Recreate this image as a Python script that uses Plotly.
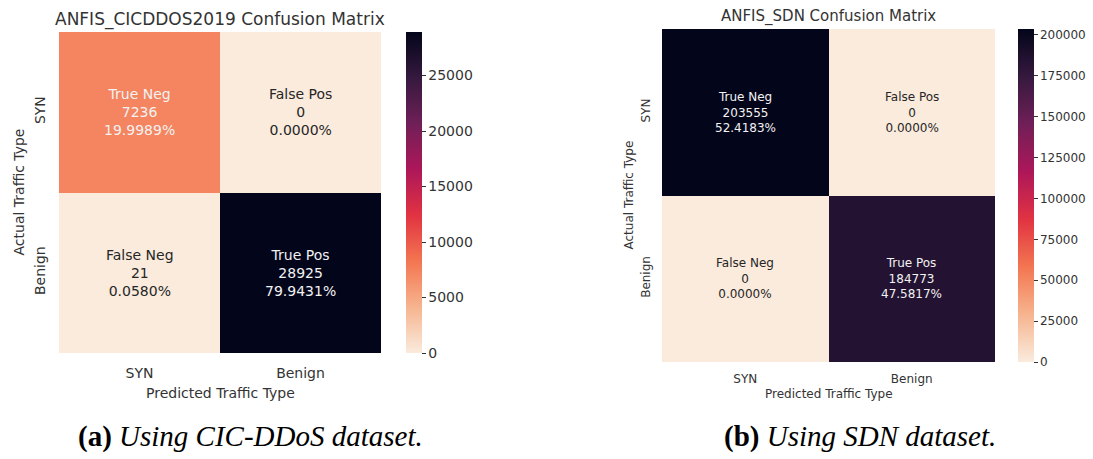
import plotly.graph_objects as go

# ---------------- data ----------------
categories = ["SYN", "Benign"]
cell_names = [["True Neg", "False Pos"], ["False Neg", "True Pos"]]

cic_counts = [[7236, 0], [21, 28925]]
sdn_counts = [[203555, 0], [0, 184773]]

cic_title = "ANFIS_CICDDOS2019 Confusion Matrix"
sdn_title = "ANFIS_SDN Confusion Matrix"
x_title = "Predicted Traffic Type"
y_title = "Actual Traffic Type"
captions = ["<b>(a)</b> <i>Using CIC-DDoS dataset.</i>",
            "<b>(b)</b> <i>Using SDN dataset.</i>"]

cic_dtick = 5000
sdn_dtick = 25000

# seaborn "rocket_r" colormap
rocket_r = [
    [0 / 7, "#FAEBDD"],
    [1 / 7, "#F6B48F"],
    [2 / 7, "#F37651"],
    [3 / 7, "#E13342"],
    [4 / 7, "#AD1759"],
    [5 / 7, "#701F57"],
    [6 / 7, "#35193E"],
    [7 / 7, "#03051A"],
]

W, H = 1093, 459
TXT = "#333333"
FONT = "DejaVu Sans"


def px_x(v):
    return v / W


def px_y(v):
    return 1 - v / H


fig = go.Figure()
annotations = []

panels = [
    dict(counts=cic_counts, title=cic_title, dtick=cic_dtick, xa="x", ya="y",
         box=(59, 381, 32, 353), cb=(406, 16), fs=14, tfs=17, cfs=14,
         title_y=19, xt_y=393, yt_x=18, ticklen=7, cap_x=250),
    dict(counts=sdn_counts, title=sdn_title, dtick=sdn_dtick, xa="x2", ya="y2",
         box=(662, 995, 29, 362), cb=(1018, 16), fs=12, tfs=15, cfs=12,
         title_y=16, xt_y=394, yt_x=628, ticklen=6, cap_x=860),
]

for i, p in enumerate(panels):
    z = p["counts"]
    zmax = max(max(r) for r in z)
    total = sum(sum(r) for r in z)
    x0, x1, y0, y1 = p["box"]
    cbx, cbt = p["cb"]
    fig.add_trace(go.Heatmap(
        z=z, x=categories, y=categories,
        xaxis=p["xa"], yaxis=p["ya"],
        colorscale=rocket_r, zmin=0, zmax=zmax,
        hoverinfo="skip",
        colorbar=dict(
            x=px_x(cbx), xanchor="left", xpad=0, ypad=0,
            y=(px_y(y0) + px_y(y1)) / 2, yanchor="middle",
            len=(y1 - y0) / H, lenmode="fraction",
            thickness=cbt, thicknessmode="pixels",
            outlinewidth=0,
            ticks="outside", ticklen=4, tickwidth=1, tickcolor=TXT,
            tick0=0, dtick=p["dtick"], tickformat="d",
            tickfont=dict(family=FONT, size=p["cfs"], color=TXT),
        ),
    ))
    # cell texts
    for r in range(2):
        for c in range(2):
            v = z[r][c]
            pct = v / total * 100
            frac = v / zmax if zmax else 0
            col = "#F2F2F2" if frac > 0.2 else "#262626"
            annotations.append(dict(
                x=categories[c], y=categories[r], xref=p["xa"], yref=p["ya"],
                text=f"{cell_names[r][c]}<br>{v}<br>{pct:.4f}%",
                showarrow=False, align="center",
                font=dict(family=FONT, size=p["fs"], color=col),
            ))
    cx = (px_x(x0) + px_x(x1)) / 2
    # title
    annotations.append(dict(
        x=cx, y=px_y(p["title_y"]), xref="paper", yref="paper",
        text=p["title"], showarrow=False, xanchor="center", yanchor="middle",
        font=dict(family=FONT, size=p["tfs"], color=TXT)))
    # axis titles
    annotations.append(dict(
        x=cx, y=px_y(p["xt_y"]), xref="paper", yref="paper",
        text=x_title, showarrow=False, xanchor="center", yanchor="middle",
        font=dict(family=FONT, size=p["fs"], color=TXT)))
    annotations.append(dict(
        x=px_x(p["yt_x"]), y=(px_y(y0) + px_y(y1)) / 2, xref="paper", yref="paper",
        text=y_title, showarrow=False, xanchor="center", yanchor="middle",
        textangle=-90,
        font=dict(family=FONT, size=p["fs"], color=TXT)))
    # caption
    annotations.append(dict(
        x=px_x(p["cap_x"]), y=px_y(436), xref="paper", yref="paper",
        text=captions[i], showarrow=False, xanchor="center", yanchor="middle",
        font=dict(family="Liberation Serif", size=29, color="#000000")))

    axis_common = dict(showgrid=False, zeroline=False, showline=False,
                       ticks="outside", ticklen=p["ticklen"],
                       tickcolor="rgba(0,0,0,0)",
                       tickfont=dict(family=FONT, size=p["fs"], color=TXT))
    sfx = "" if i == 0 else "2"
    fig.update_layout(**{
        f"xaxis{sfx}": dict(domain=[px_x(x0), px_x(x1)], anchor=f"y{sfx}",
                             **axis_common),
        f"yaxis{sfx}": dict(domain=[px_y(y1), px_y(y0)], anchor=f"x{sfx}",
                             autorange="reversed", tickangle=-90,
                             **axis_common),
    })

fig.update_layout(
    width=W, height=H,
    margin=dict(l=0, r=0, t=0, b=0),
    paper_bgcolor="white", plot_bgcolor="white",
    annotations=annotations,
    showlegend=False,
)

fig.write_html("out.html", config={"displayModeBar": False},
               post_script="document.body.style.margin='0';")
